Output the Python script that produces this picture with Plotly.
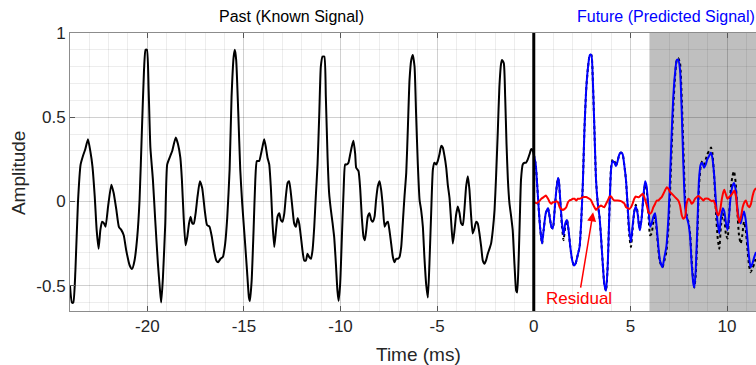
import plotly.graph_objects as go

# ---------------- data ----------------
past_t = [-24.00, -23.90, -23.83, -23.72, -23.59, -23.45, -23.33, -23.21, -23.07, -22.95,
          -22.84, -22.72, -22.62, -22.52, -22.43, -22.34, -22.24, -22.16, -22.03, -21.86,
          -21.74, -21.60, -21.47, -21.34, -21.22, -21.09, -20.91, -20.79, -20.66, -20.52,
          -20.40, -20.28, -20.17, -20.09, -20.02, -19.93, -19.84, -19.71, -19.59, -19.45,
          -19.34, -19.28, -19.19, -19.07, -18.97, -18.81, -18.71, -18.53, -18.41, -18.29,
          -18.21, -18.12, -18.02, -17.93, -17.84, -17.76, -17.67, -17.59, -17.50, -17.40,
          -17.28, -17.16, -17.03, -16.91, -16.78, -16.66, -16.55, -16.43, -16.33, -16.21,
          -16.09, -15.97, -15.86, -15.74, -15.64, -15.53, -15.47, -15.40, -15.29, -15.19,
          -15.09, -14.95, -14.84, -14.74, -14.69, -14.60, -14.50, -14.41, -14.33, -14.21,
          -14.12, -14.03, -13.95, -13.86, -13.78, -13.69, -13.60, -13.52, -13.43, -13.34,
          -13.26, -13.17, -13.09, -13.00, -12.91, -12.83, -12.74, -12.66, -12.57, -12.48,
          -12.40, -12.31, -12.22, -12.14, -12.05, -11.97, -11.88, -11.79, -11.71, -11.62,
          -11.53, -11.45, -11.36, -11.28, -11.19, -11.10, -11.02, -10.93, -10.84, -10.76,
          -10.67, -10.59, -10.50, -10.41, -10.33, -10.24, -10.16, -10.10, -10.02, -9.93,
          -9.84, -9.76, -9.67, -9.59, -9.50, -9.41, -9.33, -9.24, -9.19, -9.07,
          -8.98, -8.90, -8.81, -8.74, -8.67, -8.59, -8.50, -8.41, -8.33, -8.24,
          -8.16, -8.07, -7.98, -7.90, -7.81, -7.72, -7.64, -7.55, -7.47, -7.38,
          -7.29, -7.21, -7.12, -7.03, -6.95, -6.86, -6.78, -6.69, -6.60, -6.52,
          -6.43, -6.34, -6.26, -6.17, -6.09, -6.00, -5.91, -5.83, -5.74, -5.66,
          -5.57, -5.48, -5.40, -5.31, -5.22, -5.14, -5.05, -4.97, -4.88, -4.79,
          -4.71, -4.62, -4.53, -4.45, -4.36, -4.28, -4.19, -4.10, -4.02, -3.93,
          -3.84, -3.76, -3.67, -3.59, -3.50, -3.41, -3.33, -3.24, -3.16, -3.07,
          -2.98, -2.90, -2.81, -2.72, -2.64, -2.55, -2.47, -2.38, -2.29, -2.21,
          -2.12, -2.03, -1.95, -1.86, -1.78, -1.69, -1.64, -1.55, -1.48, -1.41,
          -1.34, -1.26, -1.17, -1.09, -1.00, -0.91, -0.86, -0.79, -0.72, -0.66,
          -0.57, -0.48, -0.40, -0.31, -0.22, -0.14, -0.09, 0.00]
past_v = [-0.50, -0.60, -0.60, -0.41, -0.01, 0.22, 0.27, 0.31, 0.37, 0.30,
          0.21, 0.03, -0.17, -0.28, -0.17, -0.12, -0.13, -0.15, -0.03, 0.10,
          0.05, -0.05, -0.15, -0.17, -0.20, -0.29, -0.38, -0.40, -0.35, -0.21,
          0.01, 0.42, 0.78, 0.90, 0.90, 0.66, 0.32, 0.13, -0.11, -0.37,
          -0.53, -0.60, -0.45, -0.13, 0.22, 0.27, 0.30, 0.38, 0.34, 0.26,
          0.13, -0.09, -0.26, -0.21, -0.13, -0.09, -0.13, -0.13, -0.07, 0.03,
          0.12, 0.08, -0.05, -0.14, -0.15, -0.21, -0.29, -0.35, -0.36, -0.34,
          -0.33, -0.25, -0.09, 0.19, 0.62, 0.86, 0.90, 0.84, 0.52, 0.19,
          -0.01, -0.23, -0.41, -0.57, -0.59, -0.47, -0.17, 0.13, 0.24, 0.24,
          0.28, 0.33, 0.37, 0.32, 0.26, 0.22, 0.07, -0.13, -0.27, -0.17,
          -0.09, -0.07, -0.11, -0.12, -0.07, 0.03, 0.11, 0.12, 0.05, -0.05,
          -0.13, -0.15, -0.10, -0.13, -0.21, -0.29, -0.35, -0.35, -0.31, -0.33,
          -0.34, -0.29, -0.15, 0.03, 0.22, 0.52, 0.80, 0.86, 0.86, 0.62,
          0.26, 0.05, -0.05, -0.13, -0.21, -0.37, -0.53, -0.59, -0.49, -0.21,
          0.07, 0.22, 0.22, 0.23, 0.28, 0.33, 0.36, 0.28, 0.20, 0.18,
          0.07, -0.09, -0.21, -0.23, -0.17, -0.09, -0.07, -0.11, -0.12, -0.09,
          0.01, 0.09, 0.12, 0.07, -0.03, -0.15, -0.13, -0.12, -0.17, -0.25,
          -0.33, -0.36, -0.34, -0.34, -0.33, -0.27, -0.13, 0.03, 0.17, 0.42,
          0.72, 0.84, 0.87, 0.80, 0.52, 0.22, 0.01, -0.05, -0.15, -0.33,
          -0.49, -0.57, -0.37, -0.07, 0.19, 0.23, 0.22, 0.24, 0.28, 0.33,
          0.32, 0.27, 0.20, 0.10, 0.02, -0.11, -0.25, -0.17, -0.08, -0.03,
          -0.07, -0.13, -0.14, -0.05, 0.09, 0.15, 0.07, -0.09, -0.19, -0.16,
          -0.12, -0.13, -0.19, -0.27, -0.35, -0.37, -0.35, -0.31, -0.28, -0.25,
          -0.17, -0.05, 0.15, 0.42, 0.68, 0.82, 0.84, 0.82, 0.62, 0.34,
          0.13, -0.01, -0.09, -0.17, -0.37, -0.53, -0.54, -0.37, -0.09, 0.13,
          0.22, 0.23, 0.23, 0.25, 0.28, 0.31, 0.31, 0.28]

future_t = [0.00, 0.10, 0.17, 0.26, 0.34, 0.43, 0.51, 0.62, 0.74, 0.82,
            0.91, 0.99, 1.08, 1.17, 1.25, 1.30, 1.37, 1.46, 1.54, 1.63,
            1.72, 1.80, 1.89, 1.99, 2.08, 2.16, 2.25, 2.37, 2.45, 2.54,
            2.62, 2.71, 2.81, 2.90, 2.98, 3.05, 3.14, 3.22, 3.31, 3.40,
            3.48, 3.57, 3.65, 3.74, 3.83, 3.91, 4.00, 4.08, 4.17, 4.25,
            4.34, 4.43, 4.51, 4.60, 4.68, 4.77, 4.85, 4.94, 5.03, 5.11,
            5.20, 5.28, 5.37, 5.45, 5.50, 5.59, 5.67, 5.76, 5.84, 5.93,
            6.02, 6.10, 6.19, 6.28, 6.36, 6.45, 6.53, 6.66, 6.76, 6.86,
            6.97, 7.05, 7.14, 7.22, 7.31, 7.40, 7.48, 7.57, 7.66, 7.74,
            7.83, 7.91, 8.00, 8.09, 8.17, 8.26, 8.31, 8.38, 8.47, 8.55,
            8.64, 8.72, 8.81, 8.90, 8.98, 9.07, 9.17, 9.24, 9.34, 9.43,
            9.52, 9.60, 9.69, 9.78, 9.86, 9.95, 10.03, 10.10, 10.19, 10.28,
            10.36, 10.45, 10.53, 10.62, 10.71, 10.79, 10.88, 10.97, 11.05, 11.14,
            11.22, 11.31, 11.41, 11.50]
predicted_v = [0.28, 0.22, 0.11, -0.05, -0.17, -0.25, -0.17, -0.07, -0.04, -0.09,
               -0.15, -0.16, -0.05, 0.07, 0.14, 0.12, 0.01, -0.13, -0.20, -0.13,
               -0.11, -0.17, -0.27, -0.35, -0.38, -0.37, -0.33, -0.27, -0.13, 0.11,
               0.42, 0.66, 0.80, 0.87, 0.87, 0.74, 0.42, 0.13, -0.01, -0.09,
               -0.21, -0.37, -0.49, -0.53, -0.37, -0.07, 0.19, 0.24, 0.23, 0.21,
               0.24, 0.28, 0.29, 0.28, 0.22, 0.13, -0.01, -0.17, -0.24, -0.15,
               -0.06, -0.03, -0.07, -0.15, -0.17, -0.09, 0.03, 0.12, 0.09, -0.03,
               -0.15, -0.13, -0.09, -0.07, -0.15, -0.27, -0.35, -0.39, -0.33, -0.27,
               -0.09, 0.13, 0.42, 0.62, 0.76, 0.84, 0.84, 0.78, 0.52, 0.22,
               -0.03, -0.09, -0.13, -0.21, -0.37, -0.49, -0.51, -0.41, -0.13, 0.13,
               0.22, 0.23, 0.20, 0.22, 0.25, 0.27, 0.29, 0.26, 0.15, -0.01,
               -0.13, -0.19, -0.09, -0.04, -0.06, -0.13, -0.17, -0.09, 0.03, 0.09,
               0.11, 0.07, -0.03, -0.11, -0.13, -0.09, -0.06, -0.11, -0.21, -0.33,
               -0.39, -0.37, -0.33, -0.30]
actual_v = [0.28, 0.22, 0.11, -0.05, -0.17, -0.25, -0.17, -0.07, -0.04, -0.09,
            -0.15, -0.16, -0.05, 0.07, 0.14, 0.12, 0.00, -0.15, -0.23, -0.15,
            -0.11, -0.17, -0.27, -0.35, -0.38, -0.37, -0.33, -0.27, -0.13, 0.11,
            0.42, 0.66, 0.80, 0.87, 0.87, 0.74, 0.42, 0.13, -0.01, -0.09,
            -0.21, -0.37, -0.49, -0.53, -0.37, -0.07, 0.20, 0.25, 0.24, 0.21,
            0.24, 0.28, 0.29, 0.28, 0.22, 0.13, -0.02, -0.20, -0.27, -0.17,
            -0.06, -0.02, -0.06, -0.14, -0.16, -0.09, 0.02, 0.10, 0.07, -0.07,
            -0.20, -0.19, -0.12, -0.09, -0.17, -0.29, -0.36, -0.39, -0.35, -0.30,
            -0.15, 0.05, 0.33, 0.56, 0.74, 0.84, 0.85, 0.82, 0.60, 0.32,
            0.02, -0.08, -0.12, -0.19, -0.35, -0.48, -0.51, -0.44, -0.18, 0.09,
            0.21, 0.24, 0.22, 0.25, 0.28, 0.30, 0.32, 0.29, 0.14, -0.07,
            -0.22, -0.28, -0.14, -0.07, -0.10, -0.20, -0.22, -0.10, 0.07, 0.15,
            0.18, 0.11, -0.05, -0.20, -0.25, -0.20, -0.12, -0.17, -0.27, -0.38,
            -0.42, -0.40, -0.37, -0.33]

residual_t = [0.00, 0.14, 0.27, 0.39, 0.51, 0.62, 0.74, 0.82, 0.91, 0.99,
              1.08, 1.17, 1.25, 1.34, 1.42, 1.51, 1.60, 1.68, 1.77, 1.85,
              1.94, 2.02, 2.11, 2.20, 2.28, 2.37, 2.45, 2.54, 2.71, 2.80,
              2.88, 2.97, 3.05, 3.14, 3.22, 3.31, 3.40, 3.48, 3.57, 3.65,
              3.74, 3.83, 3.91, 4.00, 4.08, 4.17, 4.34, 4.51, 4.60, 4.68,
              4.77, 4.85, 4.94, 5.03, 5.11, 5.20, 5.28, 5.37, 5.45, 5.54,
              5.63, 5.71, 5.76, 5.84, 5.93, 6.02, 6.10, 6.19, 6.28, 6.36,
              6.45, 6.53, 6.62, 6.71, 6.79, 6.88, 6.97, 7.05, 7.14, 7.31,
              7.48, 7.57, 7.66, 7.74, 7.83, 7.91, 8.00, 8.09, 8.17, 8.26,
              8.34, 8.52, 8.69, 8.78, 8.86, 9.03, 9.21, 9.29, 9.38, 9.47,
              9.55, 9.64, 9.72, 9.81, 9.86, 9.93, 10.02, 10.10, 10.21, 10.29,
              10.38, 10.47, 10.55, 10.64, 10.72, 10.81, 10.90, 10.98, 11.07, 11.16,
              11.24, 11.33, 11.41, 11.50]
residual_v = [0.00, -0.01, 0.00, 0.016, 0.026, 0.036, 0.016, -0.004, -0.014, -0.004,
              -0.004, 0.002, -0.004, -0.034, -0.044, -0.05, -0.044, -0.034, -0.004, 0.006,
              0.01, 0.016, 0.016, 0.006, 0.016, 0.016, 0.02, 0.026, 0.026, 0.022,
              0.016, 0.006, -0.014, -0.034, -0.05, -0.038, -0.03, -0.024, -0.03, -0.034,
              -0.014, 0.006, 0.026, 0.03, 0.016, 0.006, 0.006, 0.002, -0.004, -0.01,
              -0.034, -0.04, -0.044, -0.034, -0.014, 0.016, 0.03, 0.026, 0.026, 0.036,
              0.046, 0.03, 0.01, -0.02, -0.063, -0.073, -0.063, -0.034, -0.014, 0.006,
              0.006, 0.016, 0.026, 0.046, 0.065, 0.085, 0.075, 0.056, 0.046, 0.026,
              0.006, -0.024, -0.083, -0.103, -0.093, -0.014, 0.016, 0.006, -0.014, -0.004,
              0.016, 0.032, 0.016, 0.006, 0.016, 0.016, 0.002, 0.006, -0.014, -0.063,
              -0.083, -0.054, 0.006, 0.056, 0.069, 0.046, 0.016, 0.026, 0.036, 0.05,
              0.065, 0.026, -0.073, -0.123, -0.093, -0.034, -0.004, 0.006, -0.024, -0.034,
              -0.014, 0.036, 0.065, 0.08]

x_tick_vals = [-20, -15, -10, -5, 0, 5, 10]
x_tick_text = ["-20", "-15", "-10", "-5", "0", "5", "10"]
y_tick_vals = [-0.5, 0, 0.5, 1]
y_tick_text = ["-0.5", "0", "0.5", "1"]

x_range = [-24, 11.5]
y_range = [-0.65, 1.0]
shade_start = 6

# ---------------- figure ----------------
FONT = "Liberation Sans, Arial, Helvetica, sans-serif"
fig = go.Figure()

fig.add_trace(go.Scatter(x=past_t, y=past_v, mode="lines",
                         line=dict(color="black", width=2, shape="spline", smoothing=0.5),
                         hoverinfo="skip", showlegend=False))
fig.add_trace(go.Scatter(x=future_t, y=actual_v, mode="lines",
                         line=dict(color="black", width=2, dash="dot", shape="spline", smoothing=0.5),
                         hoverinfo="skip", showlegend=False))
fig.add_trace(go.Scatter(x=future_t, y=predicted_v, mode="lines",
                         line=dict(color="#0000ff", width=2, shape="spline", smoothing=0.5),
                         hoverinfo="skip", showlegend=False))
fig.add_trace(go.Scatter(x=residual_t, y=residual_v, mode="lines",
                         line=dict(color="#ff0000", width=2, shape="spline", smoothing=0.4),
                         hoverinfo="skip", showlegend=False))

# shaded region
fig.add_shape(type="rect", xref="x", yref="paper", x0=shade_start, x1=x_range[1] + 1,
              y0=0, y1=1, fillcolor="#bfbfbf", line=dict(width=0), layer="below")
# t = 0 divider
fig.add_shape(type="line", xref="x", yref="paper", x0=0, x1=0, y0=0, y1=1,
              line=dict(color="black", width=3), layer="above")

annots = [
    dict(text="Past (Known Signal)", xref="paper", yref="paper", x=0.3236, y=1.0576,
         showarrow=False, font=dict(family=FONT, size=16, color="black"),
         xanchor="center", yanchor="middle"),
    dict(text="Future (Predicted Signal)", xref="paper", yref="paper", x=0.8688, y=1.0576,
         showarrow=False, font=dict(family=FONT, size=16, color="#0000ff"),
         xanchor="center", yanchor="middle"),
    dict(text="Time (ms)", xref="paper", yref="paper", x=0.5087, y=-0.155,
         showarrow=False, font=dict(family=FONT, size=19, color="#262626"),
         xanchor="center", yanchor="middle"),
    dict(text="Amplitude", xref="paper", yref="paper", x=-0.0758, y=0.496, textangle=-90,
         showarrow=False, font=dict(family=FONT, size=19, color="#262626"),
         xanchor="center", yanchor="middle"),
    dict(text="Residual", x=3.07, y=-0.064, xref="x", yref="y",
         ax=2.33, ay=-0.577, axref="x", ayref="y",
         showarrow=True, arrowhead=2, arrowsize=1.2, arrowwidth=1.5, arrowcolor="#ff0000",
         standoff=0, font=dict(family=FONT, size=17, color="#ff0000")),
]

fig.update_layout(
    width=756, height=365,
    margin=dict(l=70, r=0, t=33, b=54),
    paper_bgcolor="white", plot_bgcolor="white",
    annotations=annots,
    showlegend=False,
    xaxis=dict(range=x_range, tickvals=x_tick_vals, ticktext=x_tick_text,
               ticks="inside", ticklen=5, tickcolor="#555555", tickwidth=1,
               showline=True, linecolor="#8c8c8c", linewidth=1, mirror="ticks",
               showgrid=True, gridcolor="rgba(0,0,0,0.12)", gridwidth=1,
               minor=dict(dtick=1, showgrid=True, gridcolor="rgba(0,0,0,0.07)", ticks=""),
               zeroline=False,
               tickfont=dict(family=FONT, size=17, color="#262626")),
    yaxis=dict(range=y_range, tickvals=y_tick_vals, ticktext=y_tick_text,
               ticks="inside", ticklen=5, tickcolor="#555555", tickwidth=1,
               showline=True, linecolor="#8c8c8c", linewidth=1, mirror=False,
               showgrid=True, gridcolor="rgba(0,0,0,0.12)", gridwidth=1,
               minor=dict(dtick=0.1, showgrid=True, gridcolor="rgba(0,0,0,0.07)", ticks=""),
               zeroline=False,
               tickfont=dict(family=FONT, size=17, color="#262626")),
)

fig.write_html("out.html")
